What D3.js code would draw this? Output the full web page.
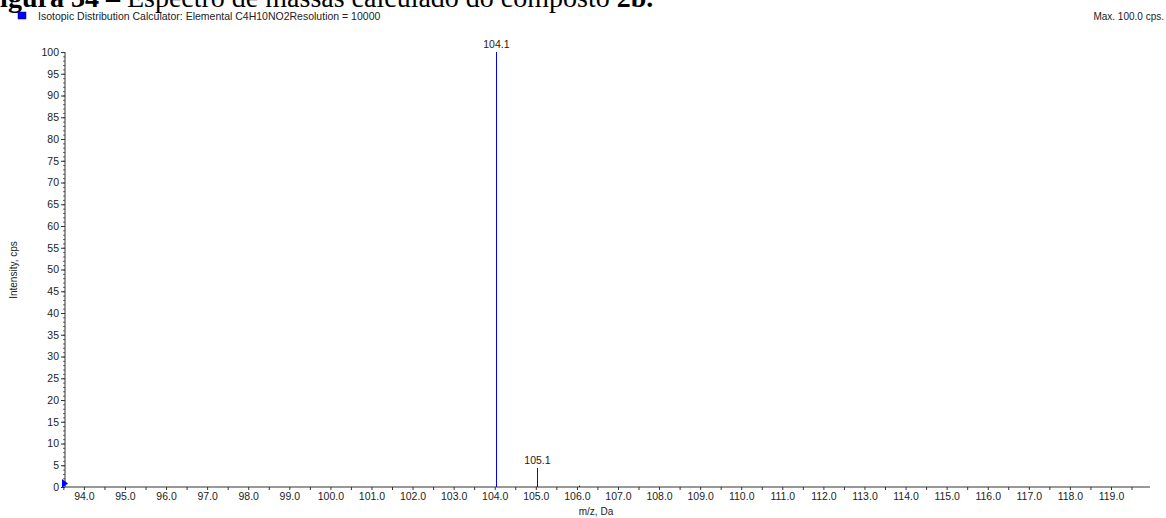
<!DOCTYPE html>
<html><head><meta charset="utf-8">
<script src="https://cdn.jsdelivr.net/npm/d3@7"></script>
<style>
body{margin:0;background:#fff;}
svg{display:block;font-family:"Liberation Sans",Arial,sans-serif;}
</style></head>
<body><svg id="c" width="1166" height="518"></svg>
<script>
const mzValues = [104.04, 105.04, 106.04];
const intensities = [100, 4.4, 0.3];
const peakLabels = ["104.1", "105.1", ""];
const xTickValues = d3.range(94, 120, 1);
const xTickLabels = xTickValues.map(v => v.toFixed(1));
const yTickValues = d3.range(0, 101, 5);
const titleText = "Isotopic Distribution Calculator: Elemental C4H10NO2Resolution = 10000";
const maxText = "Max. 100.0 cps.";
const captionBold1 = "Figura 34 – ";
const captionNormal = "Espectro de massas calculado do composto ";
const captionBold2 = "2b.";

const svg = d3.select("#c");
const x = d3.scaleLinear().domain([93.54, 119.95]).range([65, 1150]);
const y = d3.scaleLinear().domain([0, 100]).range([487, 52]);
const axisColor = "#333";

// caption (cut off at top)
const cap = svg.append("text").attr("x", -17).attr("y", 7)
  .attr("font-family", "'Liberation Serif','Times New Roman',serif").attr("font-size", 28).attr("fill", "#000");
cap.append("tspan").attr("font-weight", "bold").text(captionBold1);
cap.append("tspan").text(captionNormal);
cap.append("tspan").attr("font-weight", "bold").text(captionBold2);

// legend header
svg.append("rect").attr("x", 18).attr("y", 12).attr("width", 8).attr("height", 7).attr("fill", "#0000ff").attr("stroke", "#000066").attr("stroke-width", 0.5);
svg.append("text").attr("x", 38).attr("y", 20).attr("font-size", 10.5).attr("fill", "#222").text(titleText);
svg.append("text").attr("x", 1164).attr("y", 20).attr("font-size", 10).attr("text-anchor", "end").attr("fill", "#222").text(maxText);

// y axis minor
const yMinor = svg.append("g").attr("transform", "translate(65,0)")
  .call(d3.axisLeft(y).tickValues(d3.range(0, 101, 1)).tickSize(2).tickFormat(""));
yMinor.select(".domain").remove();
yMinor.selectAll("line").attr("stroke", "#666");
const yAxis = svg.append("g").attr("transform", "translate(65,0)")
  .call(d3.axisLeft(y).tickValues(yTickValues).tickSize(4).tickPadding(2).tickFormat(d3.format("d")));
yAxis.select(".domain").attr("d", `M0,${y(100)}V${y(0)}`).attr("stroke", axisColor);
yAxis.selectAll("line").attr("stroke", axisColor);
yAxis.selectAll("text").attr("font-size", 10.5).attr("fill", "#222").attr("font-family", "'Liberation Sans',Arial,sans-serif");

// x axis minor
const xMinor = svg.append("g").attr("transform", `translate(0,${y(0)})`)
  .call(d3.axisBottom(x).tickValues(d3.range(93.5, 120, 1)).tickSize(3).tickFormat(""));
xMinor.select(".domain").remove();
xMinor.selectAll("line").attr("stroke", axisColor);
const xAxis = svg.append("g").attr("transform", `translate(0,${y(0)})`)
  .call(d3.axisBottom(x).tickValues(xTickValues).tickSize(3).tickPadding(3).tickFormat((d, i) => xTickLabels[i]));
xAxis.select(".domain").attr("d", `M65,0H1150`).attr("stroke", axisColor);
xAxis.selectAll("line").attr("stroke", axisColor);
xAxis.selectAll("text").attr("font-size", 10.5).attr("fill", "#222").attr("font-family", "'Liberation Sans',Arial,sans-serif");

// axis titles
svg.append("text").attr("transform", "translate(17,270) rotate(-90)").attr("text-anchor", "middle")
  .attr("font-size", 10).attr("fill", "#222").text("Intensity, cps");
svg.append("text").attr("x", 596).attr("y", 515).attr("text-anchor", "middle")
  .attr("font-size", 10).attr("fill", "#222").text("m/z, Da");

// peaks
const peaks = mzValues.map((m, i) => ({m, v: intensities[i], l: peakLabels[i]}));
svg.append("g").selectAll("line").data(peaks).join("line")
  .attr("x1", d => Math.round(x(d.m)) + 0.5).attr("x2", d => Math.round(x(d.m)) + 0.5)
  .attr("y1", y(0)).attr("y2", d => y(d.v))
  .attr("stroke", "#0000ff").attr("stroke-width", 1);
svg.append("g").selectAll("text").data(peaks.filter(d => d.l)).join("text")
  .attr("x", d => x(d.m)).attr("y", d => y(d.v) - 4).attr("text-anchor", "middle")
  .attr("font-size", 10.5).attr("fill", "#222").text(d => d.l);

// origin marker
svg.append("path").attr("d", `M62,${y(0)-8}L68,${y(0)-3.5}L62,${y(0)+1}Z`).attr("fill", "#0000ff");
</script></body></html>
